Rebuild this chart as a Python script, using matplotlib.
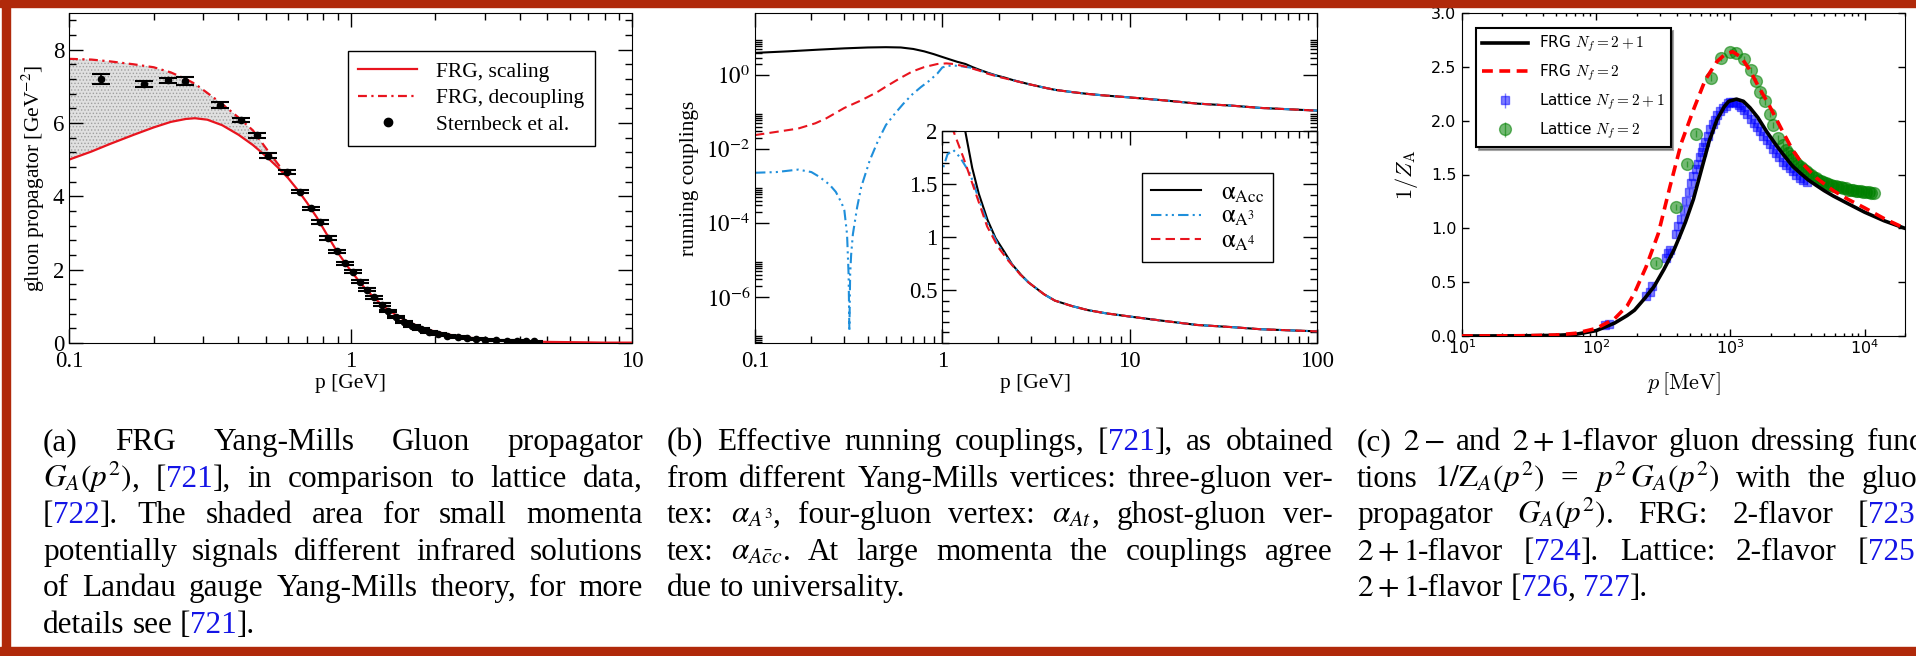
import re
import numpy as np
import matplotlib
matplotlib.use("Agg")
import matplotlib.pyplot as plt
from matplotlib.patches import Rectangle
from matplotlib.lines import Line2D
from matplotlib.ticker import FixedLocator, MultipleLocator, NullFormatter

plt.rcParams['font.family'] = ['Liberation Serif', 'DejaVu Serif']
plt.rcParams['mathtext.fontset'] = 'stix'
plt.rcParams['hatch.linewidth'] = 0.6

W, H = 1916, 656
RED = '#e8141e'
BLUE_LINE = '#1f8fdb'
BORDER = '#b0290a'
REF = '#1414e6'

# ---------------- (a) gluon propagator ----------------
p_a = [0.10, 0.12, 0.14, 0.17, 0.20, 0.23, 0.26, 0.28, 0.31, 0.35,
       0.40, 0.45, 0.50, 0.55, 0.60, 0.65, 0.70, 0.76, 0.83, 0.90,
       1.0, 1.1, 1.2, 1.3, 1.45, 1.6, 1.8, 2.0, 2.3, 2.6,
       3.0, 3.5, 4.0, 5.0, 6.5, 8.0, 10.0]
scaling_a = [5.00, 5.22, 5.43, 5.68, 5.88, 6.03, 6.11, 6.13, 6.09, 5.94,
             5.68, 5.40, 5.10, 4.80, 4.50, 4.17, 3.83, 3.42, 2.92, 2.47,
             1.98, 1.58, 1.27, 1.02, 0.76, 0.58, 0.41, 0.31, 0.21, 0.15,
             0.10, 0.07, 0.05, 0.03, 0.02, 0.01, 0.01]
decoupling_a = [7.75, 7.73, 7.68, 7.60, 7.52, 7.38, 7.20, 7.07, 6.82, 6.52,
                6.15, 5.80, 5.32, 4.90, 4.52]

p_latt = [0.130, 0.185, 0.224, 0.259, 0.343, 0.410, 0.464, 0.508, 0.594, 0.660,
          0.722, 0.778, 0.834, 0.893, 0.957, 1.02, 1.08, 1.14, 1.21, 1.29,
          1.36, 1.45, 1.55, 1.66, 1.78, 1.90, 2.05, 2.2, 2.4, 2.6,
          2.8, 3.0, 3.3, 3.6, 3.9, 4.2, 4.5]
g_latt = [7.20, 7.06, 7.16, 7.15, 6.49, 6.09, 5.66, 5.11, 4.66, 4.13,
          3.67, 3.30, 2.86, 2.50, 2.18, 1.94, 1.67, 1.45, 1.25, 1.05,
          0.88, 0.72, 0.58, 0.47, 0.38, 0.31, 0.25, 0.20, 0.16, 0.13,
          0.11, 0.09, 0.075, 0.063, 0.055, 0.048, 0.043]
err_latt = [0.13, 0.09, 0.08, 0.10, 0.07, 0.06, 0.06, 0.06, 0.05, 0.05,
            0.05, 0.05, 0.05, 0.05, 0.04, 0.04, 0.04, 0.04, 0.04, 0.04,
            0.03, 0.03, 0.03, 0.03, 0.03, 0.03, 0.02, 0.02, 0.02, 0.02,
            0.02, 0.02, 0.02, 0.02, 0.02, 0.02, 0.02]

# ---------------- (b) running couplings ----------------
p_tail = [3.5, 4.0, 4.9, 6.0, 7.5, 10, 15, 23, 35, 50, 70, 100]
alpha_tail = [0.46, 0.40, 0.35, 0.31, 0.28, 0.25, 0.21, 0.17, 0.15, 0.13, 0.12, 0.11]

p_acc = [0.1, 0.15, 0.22, 0.3, 0.4, 0.5, 0.6, 0.7, 0.8, 0.9, 1.0,
         1.1, 1.2, 1.33, 1.45, 1.57, 1.75, 1.93, 2.15, 2.37, 2.65, 2.9] + p_tail
alpha_acc = [4.0, 4.4, 4.9, 5.3, 5.6, 5.7, 5.6, 5.1, 4.4, 3.7, 3.1,
             2.65, 2.3, 2.0, 1.65, 1.41, 1.16, 0.99, 0.86, 0.74, 0.64, 0.57] + alpha_tail

p_a4 = [0.1, 0.14, 0.17, 0.21, 0.24, 0.3, 0.37, 0.45, 0.5, 0.6,
        0.69, 0.8, 0.94, 1.05, 1.15, 1.3, 1.41, 1.57, 1.74, 2.0,
        2.25, 2.6, 2.9] + p_tail
alpha_a4 = [0.024, 0.031, 0.036, 0.050, 0.068, 0.13, 0.21, 0.35, 0.49, 0.85,
            1.25, 1.65, 2.0, 2.08, 2.0, 1.75, 1.57, 1.33, 1.10, 0.90,
            0.78, 0.65, 0.57] + alpha_tail

p_a3 = [0.1, 0.13, 0.17, 0.2, 0.22, 0.25, 0.27, 0.29, 0.30, 0.31,
        0.316, 0.319, 0.322, 0.326, 0.333, 0.351, 0.369, 0.41, 0.454, 0.5,
        0.56, 0.62, 0.69, 0.77, 0.85, 0.94, 1.0, 1.07, 1.15, 1.25,
        1.41, 1.57, 1.74, 2.0, 2.25, 2.6, 2.9] + p_tail
alpha_a3 = [0.0023, 0.0024, 0.0028, 0.0024, 0.0018, 0.0011, 0.0007, 0.00035, 0.00022, 0.00005,
            0.000004, 1.2e-7, 0.000004, 0.000014, 0.00005, 0.00027, 0.00095, 0.005, 0.017, 0.045,
            0.093, 0.17, 0.30, 0.48, 0.70, 1.1, 1.62, 1.78, 1.82, 1.75,
            1.60, 1.36, 1.14, 0.92, 0.79, 0.65, 0.57] + alpha_tail

# ---------------- (c) gluon dressing ----------------
p_frg21 = [10, 20, 30, 50, 70, 100, 137, 170, 193, 230,
           270, 320, 380, 430, 463, 530, 607, 695, 795, 900,
           973, 1110, 1250, 1400, 1600, 1860, 2200, 2500, 2900, 3340,
           3800, 4350, 5000, 5850, 7500, 10000, 14000, 20000]
z_frg21 = [0.0, 0.001, 0.002, 0.006, 0.015, 0.05, 0.12, 0.19, 0.24, 0.35,
           0.46, 0.62, 0.80, 0.96, 1.06, 1.27, 1.54, 1.81, 2.01, 2.13,
           2.18, 2.20, 2.18, 2.12, 2.03, 1.90, 1.77, 1.68, 1.58, 1.51,
           1.45, 1.40, 1.35, 1.30, 1.23, 1.15, 1.07, 1.00]

p_frg2 = [10, 20, 30, 50, 70, 100, 137, 170, 193, 235,
          290, 355, 430, 530, 650, 795, 920, 1040, 1200, 1380,
          1630, 1950, 2500, 2900, 3340, 4350, 5850, 7500, 10000, 14000,
          20000]
z_frg2 = [0.0, 0.001, 0.003, 0.009, 0.025, 0.07, 0.16, 0.28, 0.40, 0.64,
          0.95, 1.39, 1.79, 2.10, 2.38, 2.55, 2.62, 2.64, 2.59, 2.48,
          2.31, 2.14, 1.88, 1.73, 1.62, 1.47, 1.35, 1.27, 1.19, 1.09,
          1.00]

p_lat21 = [116, 124, 236, 250, 262, 330, 345, 356, 390, 410,
           430, 450, 470, 490, 510, 530, 550, 570, 590, 610,
           630, 650, 680, 710, 740, 770, 800, 840, 880, 920,
           960, 1000, 1050, 1100, 1150, 1200, 1270, 1340, 1420, 1500,
           1580, 1670, 1760, 1860, 1960, 2070, 2190, 2320, 2460, 2600,
           2760, 2920, 3100, 3300, 3500, 3700]
z_lat21 = [0.10, 0.11, 0.37, 0.41, 0.46, 0.72, 0.77, 0.80, 0.95, 1.02,
           1.09, 1.17, 1.25, 1.34, 1.42, 1.49, 1.55, 1.60, 1.66, 1.71,
           1.76, 1.80, 1.86, 1.92, 1.97, 2.01, 2.05, 2.09, 2.12, 2.14,
           2.16, 2.17, 2.17, 2.16, 2.15, 2.13, 2.10, 2.06, 2.02, 1.98,
           1.94, 1.90, 1.86, 1.82, 1.78, 1.74, 1.70, 1.66, 1.62, 1.59,
           1.56, 1.53, 1.50, 1.47, 1.45, 1.43]

p_lat2 = [279, 390, 477, 557, 716, 848, 1000, 1110, 1270, 1436,
          1560, 1668, 1809, 1960, 2080, 2270, 2470, 2600, 2700, 2820,
          2940, 3070, 3200, 3340, 3490, 3640, 3800, 3970, 4140, 4320,
          4510, 4710, 4920, 5130, 5360, 5590, 5840, 6090, 6360, 6640,
          6930, 7240, 7550, 7890, 8230, 8590, 8970, 9370, 9780, 10200,
          10700, 11200, 11700]
z_lat2 = [0.68, 1.20, 1.60, 1.88, 2.40, 2.58, 2.64, 2.63, 2.57, 2.47,
          2.37, 2.27, 2.18, 2.06, 1.96, 1.84, 1.77, 1.73, 1.70, 1.67,
          1.64, 1.61, 1.59, 1.57, 1.55, 1.53, 1.51, 1.50, 1.48, 1.47,
          1.45, 1.44, 1.43, 1.42, 1.41, 1.40, 1.39, 1.39, 1.38, 1.38,
          1.37, 1.37, 1.36, 1.36, 1.36, 1.35, 1.35, 1.35, 1.34, 1.34,
          1.34, 1.33, 1.33]

# ---------------- captions ----------------
cap_a = ["(a) FRG Yang-Mills Gluon propagator",
         "$G_A(p^2)$, [<721>], in comparison to lattice data,",
         "[<722>]. The shaded area for small momenta",
         "potentially signals different infrared solutions",
         "of Landau gauge Yang-Mills theory, for more",
         "details see [<721>]."]
cap_b = ["(b) Effective running couplings, [<721>], as obtained",
         "from different Yang-Mills vertices: three-gluon ver-",
         "tex: $\\alpha_{A^3}$, four-gluon vertex: $\\alpha_{At}$, ghost-gluon ver-",
         "tex: $\\alpha_{A\\bar{c}c}$. At large momenta the couplings agree",
         "due to universality."]
cap_c = ["(c) $2-$ and $2+1$-flavor gluon dressing func-",
         "tions $1/\\mathrm{Z}_A(p^2)$ = $p^2\\,G_A(p^2)$ with the gluon",
         "propagator $G_A(p^2)$. FRG: 2-flavor [<723>],",
         "$2+1$-flavor [<724>]. Lattice: 2-flavor [<725>],",
         "$2+1$-flavor [<726>, <727>]."]
cap_base = [450, 487, 523, 560, 596, 633]
CAP_FS = 22.5

fig = plt.figure(figsize=(W / 100, H / 100), dpi=100)


def px_axes(x0, y0, x1, y1):
    return fig.add_axes([x0 / W, 1 - y1 / H, (x1 - x0) / W, (y1 - y0) / H])


ax_a = px_axes(69, 13, 632, 343)
ax_b = px_axes(755, 13, 1317, 343)
ax_in = px_axes(942, 131, 1317, 343)
ax_c = px_axes(1462, 13, 1905, 336)

# ---- panel (a)
n_dec = len(decoupling_a)
ax_a.fill_between(p_a[:n_dec], scaling_a[:n_dec], decoupling_a,
                  facecolor='#e0e0e0', edgecolor='#a0a0a0', hatch='.....', linewidth=0)
ax_a.plot(p_a, scaling_a, color=RED, lw=1.6, label='FRG, scaling')
ax_a.plot(p_a[:n_dec], decoupling_a, color=RED, lw=1.6, ls=(0, (4, 2, 1, 2)),
          label='FRG, decoupling')
ax_a.errorbar(p_latt, g_latt, yerr=err_latt, fmt='o', color='black', ms=4.5,
              capsize=6.5, capthick=1.5, elinewidth=1.2)
ax_a.plot([], [], 'o', color='black', ms=6, label='Sternbeck et al.')
ax_a.set_xscale('log')
ax_a.set_xlim(0.1, 10)
ax_a.set_ylim(0, 9)
ax_a.set_xticks([0.1, 1, 10])
ax_a.set_xticklabels(['0.1', '1', '10'])
ax_a.xaxis.set_minor_formatter(NullFormatter())
ax_a.yaxis.set_major_locator(MultipleLocator(2))
ax_a.yaxis.set_minor_locator(MultipleLocator(0.4))
ax_a.tick_params(which='both', direction='in', top=True, right=True, labelsize=16.5, width=1)
ax_a.tick_params(which='major', length=10)
ax_a.tick_params(which='minor', length=5)
ax_a.tick_params(axis='x', pad=6)
ax_a.set_xlabel('p [GeV]', fontsize=15.5, labelpad=1)
ax_a.set_ylabel('gluon propagator [GeV$^{-2}$]', fontsize=15.5, labelpad=4)
leg = ax_a.legend(loc='upper right', bbox_to_anchor=(0.934, 0.885), borderaxespad=0,
                  fancybox=False, edgecolor='black', framealpha=1, fontsize=15.5,
                  handlelength=2.7, handletextpad=0.9, labelspacing=0.3, borderpad=0.5)
leg.get_frame().set_linewidth(1.0)

# ---- panel (b)
for ax in (ax_b, ax_in):
    ax.plot(p_acc, alpha_acc, color='black', lw=1.5)
    ax.plot(p_a3, alpha_a3, color=BLUE_LINE, lw=1.5, ls=(0, (5, 2, 1, 2, 1, 2)))
    ax.plot(p_a4, alpha_a4, color=RED, lw=1.5, ls=(0, (4.5, 2.5)))
    ax.set_xscale('log')
    ax.xaxis.set_minor_formatter(NullFormatter())
    ax.tick_params(which='both', direction='in', top=True, right=True, labelsize=16.5, width=1)
    ax.tick_params(which='major', length=10)
    ax.tick_params(which='minor', length=5)

ax_b.set_yscale('log')
ax_b.set_xlim(0.1, 100)
ax_b.set_ylim(10 ** -7.24, 10 ** 1.68)
ax_b.set_xticks([0.1, 1, 10, 100])
ax_b.set_xticklabels(['0.1', '1', '10', '100'])
ax_b.yaxis.set_major_locator(FixedLocator([1e-6, 1e-4, 1e-2, 1e0]))
ax_b.set_yticklabels(['$10^{-6}$', '$10^{-4}$', '$10^{-2}$', '$10^{0}$'])
ax_b.yaxis.set_minor_locator(FixedLocator([k * 10.0 ** e for e in (-8, -6, -4, -2, 0)
                                           for k in range(2, 10)]))
ax_b.yaxis.set_minor_formatter(NullFormatter())
ax_b.tick_params(axis='x', pad=6)
ax_b.set_xlabel('p [GeV]', fontsize=15.5, labelpad=1)
ax_b.set_ylabel('running couplings', fontsize=15.5, labelpad=5)

ax_in.set_xlim(1, 100)
ax_in.set_ylim(0, 2)
ax_in.set_xticks([1, 10, 100])
ax_in.tick_params(labelbottom=False)
ax_in.set_yticks([0.5, 1, 1.5, 2])
ax_in.set_yticklabels(['0.5', '1', '1.5', '2'])
ax_in.yaxis.set_minor_locator(MultipleLocator(0.1))
b_handles = [Line2D([], [], color='black', lw=1.5),
             Line2D([], [], color=BLUE_LINE, lw=1.5, ls=(0, (5, 2, 1, 2, 1, 2))),
             Line2D([], [], color=RED, lw=1.5, ls=(0, (4.5, 2.5)))]
b_labels = [r'$\mathrm{\alpha}_{\rm Acc}$', r'$\mathrm{\alpha}_{\rm A^3}$',
            r'$\mathrm{\alpha}_{\rm A^4}$']
leg_b = ax_in.legend(b_handles, b_labels, loc='upper right', bbox_to_anchor=(0.883, 0.802),
                     borderaxespad=0, fancybox=False, edgecolor='black', framealpha=1,
                     fontsize=18, handlelength=2.0, handletextpad=0.8, labelspacing=0.05,
                     borderpad=0.35)
leg_b.get_frame().set_linewidth(1.0)

# ---- panel (c)
h_l21 = ax_c.errorbar(p_lat21, z_lat21, yerr=0.03, fmt='s', color='blue', ms=5.5,
                      alpha=0.5, elinewidth=1)
h_l2 = ax_c.errorbar(p_lat2, z_lat2, yerr=0.03, fmt='o', color='green', ms=8.5,
                     alpha=0.55, elinewidth=1)
h_f21, = ax_c.plot(p_frg21, z_frg21, color='black', lw=2.6, zorder=4)
h_f2, = ax_c.plot(p_frg2, z_frg2, color='red', lw=2.6, ls=(0, (3, 1.8)), zorder=5)
ax_c.set_xscale('log')
ax_c.set_xlim(10, 2e4)
ax_c.set_ylim(0, 3)
ax_c.set_xticks([10, 100, 1000, 10000])
ax_c.set_xticklabels(['$10^{1}$', '$10^{2}$', '$10^{3}$', '$10^{4}$'])
ax_c.xaxis.set_minor_formatter(NullFormatter())
ax_c.set_yticks(np.arange(0, 3.01, 0.5))
ax_c.set_yticklabels(['0.0', '0.5', '1.0', '1.5', '2.0', '2.5', '3.0'])
ax_c.tick_params(which='both', direction='in', top=True, right=True, labelsize=11.5,
                 labelfontfamily='DejaVu Sans', width=1)
ax_c.tick_params(which='major', length=5)
ax_c.tick_params(which='minor', length=2.5)
ax_c.tick_params(axis='x', pad=1.5)
ax_c.tick_params(axis='y', pad=4)
for t in ax_c.get_xticklabels():
    t.set_math_fontfamily('dejavusans')
ax_c.set_xlabel(r'$p\,[\mathrm{MeV}]$', fontsize=16, labelpad=10, math_fontfamily='cm')
ax_c.set_ylabel(r'$1/Z_{\mathrm{A}}$', fontsize=16, labelpad=8, math_fontfamily='cm')
leg_c = ax_c.legend([h_f21, h_f2, h_l21, h_l2],
                    ['FRG $N_f=2+1$', 'FRG $N_f=2$', 'Lattice $N_f=2+1$', 'Lattice $N_f=2$'],
                    loc='upper left', bbox_to_anchor=(0.032, 0.954), borderaxespad=0,
                    prop={'family': 'DejaVu Sans', 'size': 11}, shadow=True, fancybox=False,
                    edgecolor='black', framealpha=1, handlelength=3.0, handletextpad=0.7,
                    labelspacing=0.55, borderpad=0.4, numpoints=1)
leg_c.get_frame().set_linewidth(1.5)
for t in leg_c.get_texts():
    t.set_math_fontfamily('cm')

# ---- captions, justified like the LaTeX source
renderer = fig.canvas.get_renderer()
space_px = 0.25 * CAP_FS * 100 / 72


def caption(x0, width, lines):
    for i, line in enumerate(lines):
        yb = 1 - cap_base[i] / H
        words = line.split(' ')
        pieces = []
        for w in words:
            objs = []
            for s in re.split(r'(<[^>]*>|\$[^$]*\$)', w):
                if not s:
                    continue
                col = 'black'
                if s.startswith('<'):
                    s, col = s[1:-1], REF
                objs.append(fig.text(0, yb, s, fontsize=CAP_FS, color=col,
                                     va='baseline', ha='left'))
            pieces.append(objs)
        widths = [[t.get_window_extent(renderer).width for t in objs] for objs in pieces]
        total = sum(sum(ws) for ws in widths)
        if i < len(lines) - 1 and len(words) > 1:
            gap = (width - total) / (len(words) - 1)
        else:
            gap = space_px
        x = x0
        for objs, ws in zip(pieces, widths):
            for t, w in zip(objs, ws):
                t.set_x(x / W)
                x += w
            x += gap


caption(43, 600, cap_a)
caption(667, 666, cap_b)
caption(1357, 576, cap_c)

# ---- red frame
fig.add_artist(Rectangle((0, 1 - 7 / H), 1, 7 / H, transform=fig.transFigure,
                         color=BORDER, zorder=20))
fig.add_artist(Rectangle((2 / W, 0), 8 / W, 1, transform=fig.transFigure,
                         color=BORDER, zorder=20))
fig.add_artist(Rectangle((0, 0), 1, 9 / H, transform=fig.transFigure,
                         color=BORDER, zorder=20))

fig.savefig('out.png', dpi=100)
